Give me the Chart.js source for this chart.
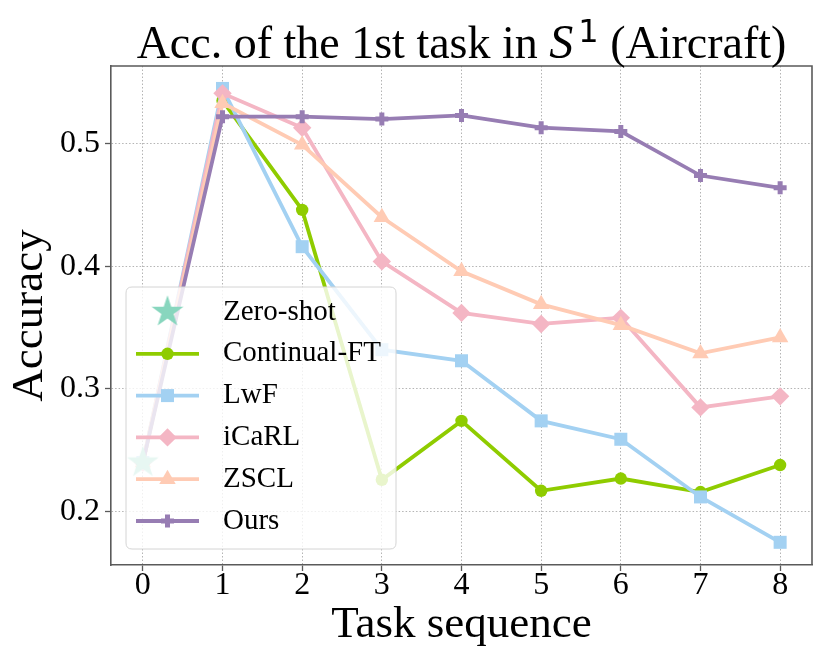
<!DOCTYPE html>
<html>
<head>
<meta charset="utf-8">
<script src="https://cdn.jsdelivr.net/npm/chart.js@4.4.1/dist/chart.umd.min.js"></script>
<style>
  html, body { margin: 0; padding: 0; background: #ffffff; }
  #wrap { width: 830px; height: 664px; }
</style>
</head>
<body>
<div id="wrap"><canvas id="c" width="830" height="664"></canvas></div>
<script>
// ---- data ----
const taskIds     = [0, 1, 2, 3, 4, 5, 6, 7, 8];
const xTickValues = [0, 1, 2, 3, 4, 5, 6, 7, 8];
const yTickValues = [0.2, 0.3, 0.4, 0.5];
const seriesNames = ['Zero-shot', 'Continual-FT', 'LwF', 'iCaRL', 'ZSCL', 'Ours'];
const zeroShot    = [0.240];
const continualFT = [0.240, 0.535, 0.446, 0.226, 0.274, 0.217, 0.227, 0.216, 0.238];
const lwf         = [0.240, 0.545, 0.416, 0.332, 0.323, 0.274, 0.259, 0.212, 0.175];
const icarl       = [0.240, 0.541, 0.513, 0.404, 0.362, 0.353, 0.358, 0.285, 0.294];
const zscl        = [0.240, 0.533, 0.499, 0.440, 0.396, 0.369, 0.352, 0.329, 0.342];
const ours        = [0.240, 0.522, 0.522, 0.520, 0.523, 0.513, 0.510, 0.474, 0.464];

const FONT = '"Liberation Serif", "Times New Roman", serif';
Chart.defaults.font.family = FONT;
Chart.defaults.color = '#000000';

// filled 5-point star marker
function makeStar(color, R) {
  const size = Math.ceil(R * 2 + 2);
  const cv = document.createElement('canvas');
  cv.width = size; cv.height = size;
  const g = cv.getContext('2d');
  const cx = size / 2, cy = size / 2, r = R * 0.381966;
  g.beginPath();
  for (let i = 0; i < 10; i++) {
    const rad = (i % 2 === 0) ? R : r;
    const a = -Math.PI / 2 + i * Math.PI / 5;
    const px = cx + rad * Math.cos(a), py = cy + rad * Math.sin(a);
    if (i === 0) g.moveTo(px, py); else g.lineTo(px, py);
  }
  g.closePath();
  g.fillStyle = color;
  g.fill();
  return cv;
}

const colors = {
  zero: '#88d6be',
  cft: '#8fcc00',
  lwf: '#a3d1f2',
  icarl: '#f4b6c4',
  zscl: '#ffcbb4',
  ours: '#977db3'
};
const starImg = makeStar(colors.zero, 16.8);

function pts(arr) { return arr.map((v, i) => ({ x: taskIds[i], y: v })); }

function lineSet(label, data, color, style, radius, bw, order) {
  return {
    label: label,
    data: pts(data),
    borderColor: color,
    backgroundColor: color,
    borderWidth: 3.8,
    tension: 0,
    pointStyle: style,
    pointRadius: radius,
    pointHoverRadius: radius,
    pointBorderWidth: bw,
    pointBackgroundColor: color,
    pointBorderColor: color,
    order: order
  };
}

const datasets = [
  {
    label: seriesNames[0],
    data: pts(zeroShot),
    showLine: false,
    pointStyle: starImg,
    pointRadius: 17,
    pointBackgroundColor: colors.zero,
    pointBorderColor: colors.zero,
    borderColor: colors.zero,
    backgroundColor: colors.zero,
    order: -1
  },
  lineSet(seriesNames[1], continualFT, colors.cft, 'circle', 6.2, 0, 4),
  lineSet(seriesNames[2], lwf, colors.lwf, 'rect', 9.2, 0, 3),
  lineSet(seriesNames[3], icarl, colors.icarl, 'rectRot', 9.2, 0, 2),
  lineSet(seriesNames[4], zscl, colors.zscl, 'triangle', 9.5, 0, 1),
  lineSet(seriesNames[5], ours, colors.ours, 'cross', 6.5, 5, 0)
];

const SPINE = '#5a5a5a';

const decorPlugin = {
  id: 'decor',
  afterDraw(chart) {
    const ctx = chart.ctx;
    const a = chart.chartArea;
    ctx.save();
    // top and right spines
    ctx.strokeStyle = SPINE;
    ctx.lineWidth = 1.6;
    ctx.beginPath();
    ctx.moveTo(a.left, a.top); ctx.lineTo(a.right, a.top); ctx.lineTo(a.right, a.bottom);
    ctx.stroke();

    // legend (drawn over the data, semi-transparent like the reference)
    const bx = 126, by = 287, bw = 270, bh = 262, rr = 6;
    ctx.beginPath();
    ctx.moveTo(bx + rr, by);
    ctx.lineTo(bx + bw - rr, by); ctx.quadraticCurveTo(bx + bw, by, bx + bw, by + rr);
    ctx.lineTo(bx + bw, by + bh - rr); ctx.quadraticCurveTo(bx + bw, by + bh, bx + bw - rr, by + bh);
    ctx.lineTo(bx + rr, by + bh); ctx.quadraticCurveTo(bx, by + bh, bx, by + bh - rr);
    ctx.lineTo(bx, by + rr); ctx.quadraticCurveTo(bx, by, bx + rr, by);
    ctx.closePath();
    ctx.fillStyle = 'rgba(255,255,255,0.8)';
    ctx.fill();
    ctx.strokeStyle = '#d4d4d4';
    ctx.lineWidth = 1;
    ctx.stroke();

    chart.data.datasets.forEach((ds, i) => {
      const y = 312 + i * 41.8;
      const x0 = 136, x1 = 199, xm = 167.5;
      if (ds.showLine !== false) {
        ctx.strokeStyle = ds.borderColor;
        ctx.lineWidth = ds.borderWidth;
        ctx.beginPath(); ctx.moveTo(x0, y); ctx.lineTo(x1, y); ctx.stroke();
      }
      ctx.fillStyle = ds.pointBackgroundColor;
      ctx.strokeStyle = ds.pointBorderColor;
      ctx.lineWidth = ds.pointBorderWidth || 0;
      Chart.helpers.drawPoint(ctx, {
        pointStyle: ds.pointStyle,
        radius: ds.pointRadius,
        rotation: 0,
        borderWidth: ds.pointBorderWidth || 0
      }, xm, y);
      ctx.fillStyle = '#000000';
      ctx.font = '29px ' + FONT;
      ctx.textAlign = 'left';
      ctx.textBaseline = 'middle';
      ctx.fillText(ds.label, 223, y);
    });

    // title with math S^1
    const t1 = 'Acc. of the 1st task in ';
    const tS = 'S';
    const tSup = '1';
    const t3 = ' (Aircraft)';
    const fMain = '46px ' + FONT;
    const fS = 'italic 48px ' + FONT;
    const fSup = '32px "DejaVu Sans", sans-serif';
    ctx.font = fMain; const w1 = ctx.measureText(t1).width; const w3 = ctx.measureText(t3).width;
    ctx.font = fS; const wS = ctx.measureText(tS).width;
    ctx.font = fSup; const wSup = ctx.measureText(tSup).width;
    const gap = 5;
    const total = w1 + wS + gap + wSup + w3;
    let x = (a.left + a.right) / 2 - total / 2;
    const base = 58;
    ctx.textAlign = 'left';
    ctx.textBaseline = 'alphabetic';
    ctx.fillStyle = '#000000';
    ctx.font = fMain; ctx.fillText(t1, x, base); x += w1;
    ctx.font = fS; ctx.fillText(tS, x, base); x += wS + gap;
    ctx.font = fSup; ctx.fillText(tSup, x, base - 16); x += wSup;
    ctx.font = fMain; ctx.fillText(t3, x, base);
    ctx.restore();
  }
};

const gridOpts = {
  color: '#b4b4b4',
  lineWidth: 1,
  tickColor: SPINE,
  tickWidth: 1.3,
  tickLength: 6,
  tickBorderDash: []
};

new Chart(document.getElementById('c'), {
  type: 'line',
  data: { datasets: datasets },
  options: {
    responsive: false,
    animation: false,
    events: [],
    layout: { padding: { left: 0, right: 13, top: 66, bottom: 0 } },
    plugins: {
      legend: { display: false },
      title: { display: false },
      tooltip: { enabled: false }
    },
    scales: {
      x: {
        type: 'linear',
        min: -0.4,
        max: 8.4,
        afterBuildTicks: (s) => { s.ticks = xTickValues.map(v => ({ value: v })); },
        afterFit: (s) => { s.height = 99; },
        ticks: {
          font: { size: 32, lineHeight: 1 },
          color: '#000000',
          padding: -1,
          maxRotation: 0,
          autoSkip: false,
          callback: (v) => String(v)
        },
        grid: gridOpts,
        border: { display: true, color: SPINE, width: 1.6, dash: [1.5, 2] },
        title: {
          display: true,
          text: 'Task sequence',
          font: { size: 45 },
          color: '#000000',
          padding: { top: 0, bottom: 12 }
        }
      },
      y: {
        type: 'linear',
        min: 0.1565,
        max: 0.5633,
        afterBuildTicks: (s) => { s.ticks = yTickValues.map(v => ({ value: v })); },
        afterFit: (s) => { s.width = 111; },
        ticks: {
          font: { size: 32, lineHeight: 1 },
          color: '#000000',
          padding: 5,
          autoSkip: false,
          callback: (v) => Number(v).toFixed(1)
        },
        grid: gridOpts,
        border: { display: true, color: SPINE, width: 1.6, dash: [1.5, 2] },
        title: {
          display: true,
          text: 'Accuracy',
          font: { size: 45 },
          color: '#000000',
          padding: { top: 3, bottom: 0 }
        }
      }
    }
  },
  plugins: [decorPlugin]
});
</script>
</body>
</html>
